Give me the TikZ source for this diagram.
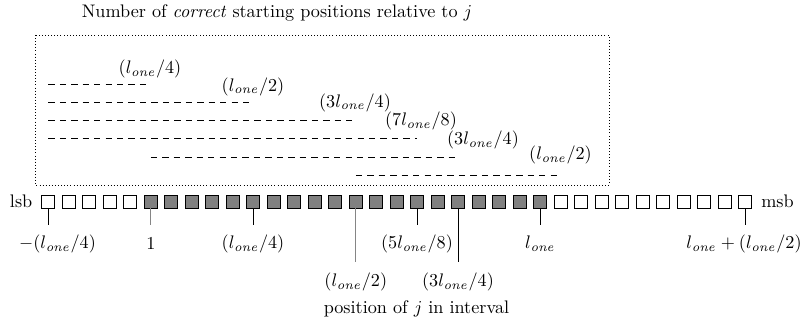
\documentclass[tikz,border=0pt]{standalone}
\usepackage{tikz}
\usepackage{amsmath}
\usetikzlibrary{positioning}
\definecolor{Cell}{HTML}{808080}
\definecolor{Tick}{HTML}{858585}

\tikzset{
  cell/.style={draw=black,line width=0.45pt,fill=white,minimum size=7.1pt,inner sep=0pt},
  oncell/.style={cell,fill=Cell},
  run/.style={line width=0.45pt,dash pattern=on 3.5pt off 2.8pt},
  tick/.style={line width=0.5pt},
}

\begin{document}
\begin{tikzpicture}[x=0.55pt,y=-0.55pt]
\path[use as bounding box] (0,0) rectangle (804,325);
\node (title) at (277,13) {Number of \textit{correct} starting positions relative to $j$};
\draw[line width=0.4pt,dash pattern=on 0.4pt off 1.3pt] (35,35) rectangle (609,185);

% bit cells
\foreach \i in {0,...,4}{\node[cell] (b\i) at (48.3+20.5*\i,201.5) {};}
\foreach \i in {5,...,24}{\node[oncell] (b\i) at (48.3+20.5*\i,201.5) {};}
\foreach \i in {25,...,34}{\node[cell] (b\i) at (48.3+20.5*\i,201.5) {};}
\node[left=1.5pt of b0] (lsb) {lsb};
\node[right=1.5pt of b34] (msb) {msb};

% runs of correct starting positions
\foreach \n/\y/\a/\b/\lx/\ly/\txt in {
  1/84/0/5/150/69/{$(l_{\mathit{one}}/4)$},
  2/102/0/10/253/86.5/{$(l_{\mathit{one}}/2)$},
  3/120/0/15/355/102.5/{$(3l_{\mathit{one}}/4)$},
  4/138/0/18/421/121/{$(7l_{\mathit{one}}/8)$},
  5/157/5/20/483/140/{$(3l_{\mathit{one}}/4)$},
  6/175/15/25/560.5/155/{$(l_{\mathit{one}}/2)$}}{
  \coordinate (s\n) at (b\a |- 0,\y);
  \coordinate (e\n) at (b\b |- 0,\y);
  \draw[run] (s\n) -- (e\n);
  \node (r\n) at (\lx,\ly) {\txt};
}

% positions below the cells
\foreach \i/\ty/\lx/\ly/\col/\txt in {
  0/225/57.5/244/black/{$-(l_{\mathit{one}}/4)$},
  5/225/151/244/Tick/{$1$},
  10/225/253/244/black/{$(l_{\mathit{one}}/4)$},
  15/262/355.8/282/Tick/{$(l_{\mathit{one}}/2)$},
  18/225/417/244/black/{$(5l_{\mathit{one}}/8)$},
  20/262/458/282/black/{$(3l_{\mathit{one}}/4)$},
  24/225/540.3/244/black/{$l_{\mathit{one}}$},
  34/225/744/244/black/{$l_{\mathit{one}}+(l_{\mathit{one}}/2)$}}{
  \coordinate (t\i) at (b\i |- 0,\ty);
  \draw[tick,\col] (b\i.south) -- (t\i);
  \node (p\i) at (\lx,\ly) {\txt};
}
\node (pos) at (416.5,309) {position of $j$ in interval};
\end{tikzpicture}
\end{document}
